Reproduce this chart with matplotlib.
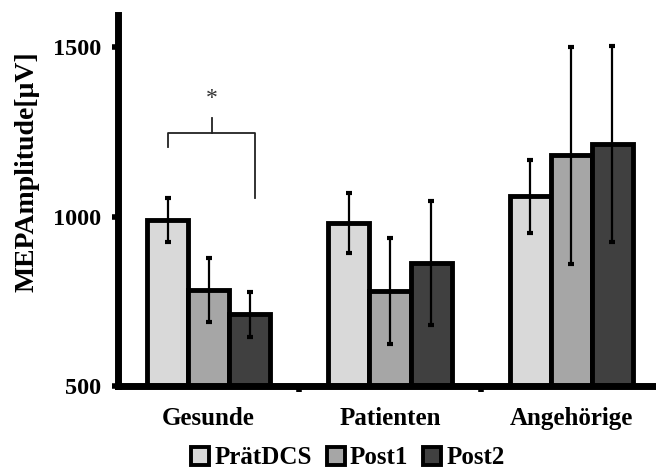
import numpy as np
import matplotlib.pyplot as plt
from matplotlib.patches import Patch

groups = ["Gesunde", "Patienten", "Angehörige"]
series = ["PrätDCS", "Post1", "Post2"]
means = {
    "PrätDCS": [990, 981, 1060],
    "Post1": [783, 780, 1181],
    "Post2": [712, 863, 1214],
}
errs = {
    "PrätDCS": [65, 88, 107],
    "Post1": [95, 157, 320],
    "Post2": [66, 183, 290],
}
colors = {"PrätDCS": "#d9d9d9", "Post1": "#a6a6a6", "Post2": "#404040"}

plt.rcParams['font.family'] = ['Liberation Serif', 'DejaVu Serif']
plt.rcParams['font.weight'] = 'bold'

fig = plt.figure(figsize=(6.56, 4.71), dpi=100)
ax = fig.add_axes([118 / 656, 85 / 471, 544 / 656, 371 / 471])

x = np.arange(len(groups))
w = 0.227
for i, s in enumerate(series):
    ax.bar(x + (i - 1) * w, means[s], w, bottom=0, color=colors[s],
           edgecolor="black", linewidth=3.5, zorder=2)
    ax.errorbar(x + (i - 1) * w, means[s], yerr=errs[s], fmt="none",
                ecolor="black", elinewidth=1.6, capsize=2.5, capthick=3, zorder=3)

# significance bracket (Gesunde: PrätDCS vs Post2)
xl, xr = x[0] - w + 0.005, x[0] + w + 0.03
ax.plot([xl, xl, xr, xr], [1205, 1246, 1246, 1055], color="#222222", lw=1.3, zorder=4)
xm = (xl + xr) / 2
ax.plot([xm, xm], [1246, 1290], color="#222222", lw=1.3, zorder=4)
ax.text(xm, 1318, "*", ha="center", va="bottom", fontsize=17, fontweight="normal",
        color="#333333")

ax.set_xlim(-0.5, 2.5)
ax.set_ylim(500, 1595)
ax.set_yticks([500, 1000, 1500])
ax.set_xticks([0.5, 1.5])
ax.set_xticklabels([])
ax.tick_params(axis="x", length=4, width=4, direction="out")
ax.tick_params(axis="y", length=4, width=4, direction="out", labelsize=17.5, pad=8)
for g, xi in zip(groups, x):
    ax.text(xi, 437, g, ha="center", va="top", fontsize=18, fontweight="bold")

for sp in ["top", "right"]:
    ax.spines[sp].set_visible(False)
ax.spines["left"].set_linewidth(5)
ax.spines["bottom"].set_linewidth(5)

fig.text(27 / 656, 1 - 172 / 471, "MEPAmplitude[µV]", rotation=90, ha="center",
         va="center", fontsize=20, fontweight="bold")

handles = [Patch(facecolor=colors[s], edgecolor="black", linewidth=2.8) for s in series]
fig.legend(handles, series, loc="center", bbox_to_anchor=(348 / 656, 1 - 458 / 471),
           ncol=3, frameon=False, fontsize=18, handlelength=0.72, handleheight=0.72,
           handletextpad=0.2, columnspacing=0.6, borderpad=0)

fig.savefig("out.png", dpi=100)
